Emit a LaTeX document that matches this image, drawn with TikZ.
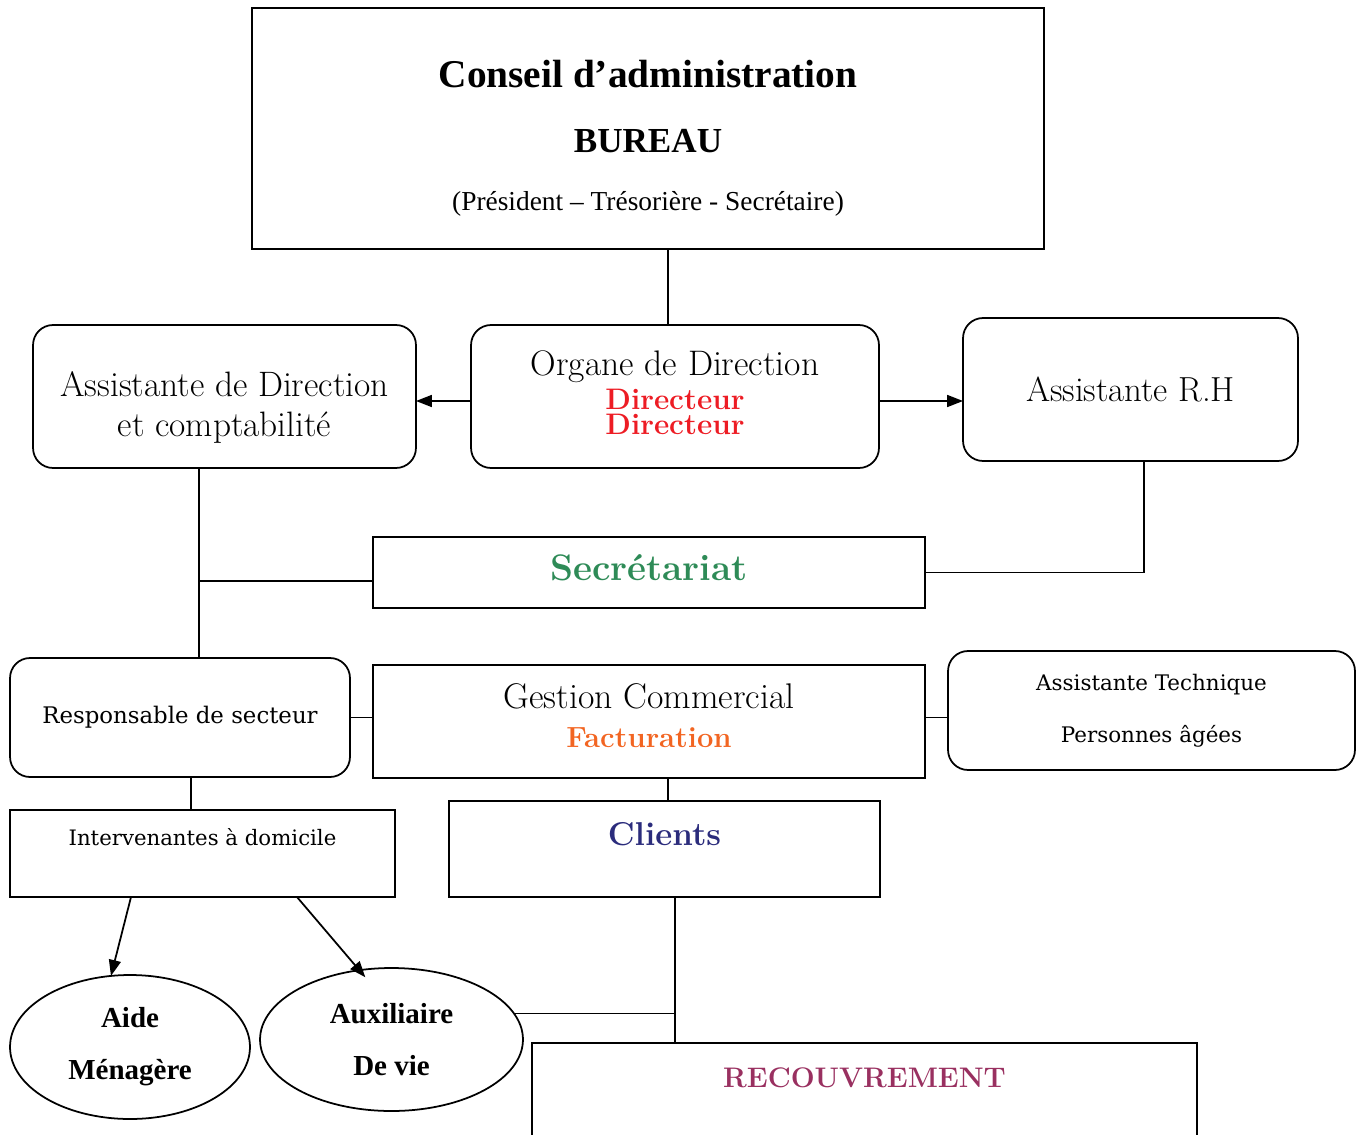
\documentclass[tikz,border=0pt]{standalone}
\usepackage{fontspec}
\usetikzlibrary{positioning,arrows.meta,shapes.geometric}
\newfontfamily\georgiaf{DejaVu Serif}
\newfontfamily\timesf{Liberation Serif}
\definecolor{vertSec}{RGB}{46,139,87}
\definecolor{rougeDir}{RGB}{237,28,36}
\definecolor{orangeFac}{RGB}{242,101,34}
\definecolor{bleuCli}{RGB}{43,44,124}
\definecolor{violetRec}{RGB}{153,48,96}

\begin{document}
\begin{tikzpicture}[x=0.02cm,y=-0.02cm,line width=1pt,
	carre/.style={draw,rectangle,inner sep=0pt,outer sep=0pt,align=center},
	arrondi/.style={carre,rounded corners=0.4cm},
	bulle/.style={draw,ellipse,inner sep=0pt,outer sep=0pt,align=center},
	fleche/.style={-{Triangle[length=0.32cm,width=0.24cm]}}]
	\useasboundingbox (0,0) rectangle (1365,1135);
	% top
	\node[carre,minimum width=15.84cm,minimum height=4.82cm,
	label={[name=conseilT,anchor=center,align=center,yshift=-0.2cm,font=\timesf\fontsize{20}{33}\selectfont]center:
	{\fontsize{22.4}{33}\selectfont\bfseries Conseil d’administration}\\[4pt]
	{\bfseries BUREAU}\\
	{\fontsize{15.6}{33}\selectfont (Président – Trésorière - Secrétaire)}}] (conseil) at (648,128.5) {};
	% direction row
	\node[arrondi,minimum width=8.16cm,minimum height=2.86cm,
	label={[name=organeT,anchor=center,align=center,yshift=0.08cm,font=\fontsize{16.9}{14}\selectfont]center:
	{\fontsize{20.2}{14}\selectfont Organe de Direction}\\[3pt]
	{\bfseries\color{rougeDir} Directeur}\\
	{\bfseries\color{rougeDir} Directeur}}] (organe) at (675,396.5) {};
	\node[arrondi,minimum width=7.66cm,minimum height=2.86cm,
	label={[name=asdirT,anchor=center,align=center,yshift=-0.22cm,font=\fontsize{20.1}{22.7}\selectfont]center:
	Assistante de Direction\\et comptabilité}] (asdir) at (224.5,396.5) {};
	\node[arrondi,minimum width=6.7cm,minimum height=2.86cm,font=\fontsize{19.8}{22}\selectfont] (asrh) at (1130.5,389.5)
	{Assistante R.H};
	% middle
	\node[carre,minimum width=11.04cm,minimum height=1.42cm,
	label={[name=secrT,anchor=center,yshift=0.1cm,font=\fontsize{21}{24}\selectfont\bfseries,text=vertSec]center:Secrétariat}] (secr) at (649,572.5) {};
	\node[arrondi,minimum width=6.8cm,minimum height=2.38cm,font=\georgiaf\fontsize{13}{16}\selectfont] (resp) at (180,717.5)
	{Responsable de secteur};
	\node[carre,minimum width=11.04cm,minimum height=2.26cm,
	label={[name=gestionT,anchor=center,align=center,yshift=0.12cm,font=\fontsize{20.3}{22}\selectfont]center:
	Gestion Commercial\\
	{\fontsize{16.6}{22}\selectfont\bfseries\color{orangeFac} Facturation}}] (gestion) at (649,721.5) {};
	\node[arrondi,minimum width=8.14cm,minimum height=2.38cm,font=\georgiaf\fontsize{12.2}{29.5}\selectfont] (astech) at (1151.5,710.5)
	{Assistante Technique\\Personnes âgées};
	% bottom
	\node[carre,minimum width=7.7cm,minimum height=1.74cm,
	label={[name=intervT,anchor=north,yshift=-0.24cm,font=\georgiaf\fontsize{12.1}{15}\selectfont]north:Intervenantes à domicile}] (interv) at (202.5,853.5) {};
	\node[carre,minimum width=8.62cm,minimum height=1.92cm,
	label={[name=clientsT,anchor=north,yshift=-0.3cm,font=\fontsize{18.8}{22}\selectfont\bfseries,text=bleuCli]north:Clients}] (clients) at (664.5,849) {};
	\node[carre,minimum width=13.3cm,minimum height=2.34cm,
	label={[name=recouvT,anchor=north,yshift=-0.36cm,font=\fontsize{16.1}{19}\selectfont\bfseries,text=violetRec]north:RECOUVREMENT}] (recouv) at (864.5,1101.5) {};
	\node[bulle,minimum width=4.8cm,minimum height=2.88cm,font=\timesf\bfseries\fontsize{16.5}{29.5}\selectfont] (aide) at (130,1047)
	{Aide\\Ménagère};
	\node[bulle,minimum width=5.26cm,minimum height=2.86cm,font=\timesf\bfseries\fontsize{16.5}{29.5}\selectfont] (auxil) at (391.5,1039.5)
	{Auxiliaire\\De vie};
	% links
	\coordinate (b1) at (199,581);
	\coordinate (b2) at (675,1013);
	\coordinate (b3) at (0,401);
	\draw ([xshift=0.4cm]conseil.south) -- ([xshift=0.4cm]conseil.south |- organe.north);
	\draw[fleche] (organe.west |- b3) -- (asdir.east |- b3);
	\draw[fleche] (organe.east |- b3) -- (asrh.west |- b3);
	\draw ([xshift=0.27cm]asrh.south) |- (secr.east);
	\draw ([xshift=-0.51cm]asdir.south) -- ([xshift=-0.51cm]asdir.south |- resp.north);
	\draw (b1) -- (secr.west |- b1);
	\draw (resp.east) -- (resp.east -| gestion.west);
	\draw (gestion.east |- resp.east) -- (astech.west |- resp.east);
	\draw ([xshift=0.22cm]resp.south) -- ([xshift=0.22cm]resp.south |- interv.north);
	\draw ([xshift=0.38cm]gestion.south) -- ([xshift=0.38cm]gestion.south |- clients.north);
	\draw ([xshift=0.21cm]clients.south) -- ([xshift=0.21cm]clients.south |- recouv.north);
	\draw (auxil.12) -- (auxil.12 -| b2);
	\draw[fleche] ([xshift=-1.43cm]interv.south) -- (aide.105);
	\draw[fleche] ([xshift=1.89cm]interv.south) -- ([shift={(-0.04cm,-0.16cm)}]auxil.109);
\end{tikzpicture}
\end{document}
